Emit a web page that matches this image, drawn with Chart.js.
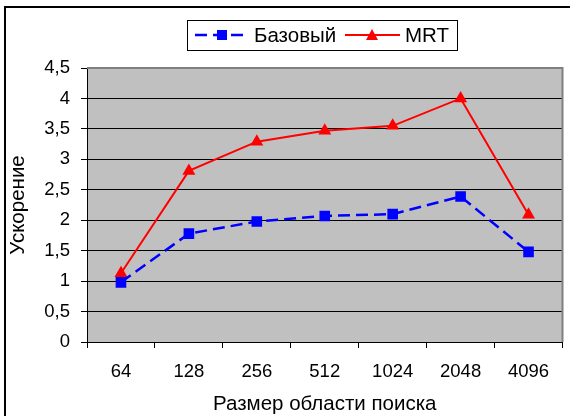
<!DOCTYPE html>
<html>
<head>
<meta charset="utf-8">
<script src="https://cdn.jsdelivr.net/npm/chart.js@4/dist/chart.umd.min.js"></script>
<style>
  html, body { margin: 0; padding: 0; background: #fff; }
  #wrap { width: 570px; height: 416px; position: relative; }
</style>
</head>
<body>
<div id="wrap"><canvas id="c" width="570" height="416"></canvas></div>
<script>
// ---- data ----
const categories = ['64', '128', '256', '512', '1024', '2048', '4096'];
const baseValues = [0.98, 1.78, 1.98, 2.07, 2.10, 2.39, 1.48];
const mrtValues  = [1.13, 2.81, 3.29, 3.47, 3.55, 4.00, 2.09];
const seriesNames = ['Базовый', 'MRT'];
const yTickLabels = ['0', '0,5', '1', '1,5', '2', '2,5', '3', '3,5', '4', '4,5'];
const xTitle = 'Размер области поиска';
const yTitle = 'Ускорение';

const FONT = '"Liberation Sans", Arial, sans-serif';
const FS = 18.5;
const FT = 20.5;

const decor = {
  id: 'decor',
  beforeDraw(chart) {
    const ctx = chart.ctx, a = chart.chartArea;
    ctx.save();
    ctx.fillStyle = '#fff';
    ctx.fillRect(0, 0, chart.width, chart.height);
    ctx.fillStyle = '#C0C0C0';
    ctx.fillRect(a.left, a.top, a.right - a.left, a.bottom - a.top);
    ctx.restore();
  },
  afterDraw(chart) {
    const ctx = chart.ctx, a = chart.chartArea;
    ctx.save();
    // plot border top/right
    ctx.strokeStyle = '#808080';
    ctx.lineWidth = 2;
    ctx.beginPath();
    ctx.moveTo(a.left, a.top);
    ctx.lineTo(a.right, a.top);
    ctx.lineTo(a.right, a.bottom);
    ctx.stroke();
    // outer frame (top + left)
    ctx.strokeStyle = '#000';
    ctx.lineWidth = 2;
    ctx.beginPath();
    ctx.moveTo(5, chart.height);
    ctx.lineTo(5, 7);
    ctx.lineTo(chart.width, 7);
    ctx.stroke();
    // legend
    const lx = 187, ly = 20, lw = 270, lh = 30, cy = ly + lh / 2;
    ctx.fillStyle = '#fff';
    ctx.fillRect(lx, ly, lw, lh);
    ctx.strokeStyle = '#000';
    ctx.lineWidth = 1;
    ctx.strokeRect(lx + 0.5, ly + 0.5, lw, lh);
    const ds = chart.data.datasets;
    // item 1
    ctx.strokeStyle = ds[0].borderColor;
    ctx.lineWidth = 2.5;
    ctx.setLineDash([12, 6]);
    ctx.beginPath(); ctx.moveTo(195, cy); ctx.lineTo(249, cy); ctx.stroke();
    ctx.setLineDash([]);
    ctx.fillStyle = ds[0].borderColor;
    ctx.fillRect(217, cy - 5, 10, 10);
    // item 2
    ctx.strokeStyle = ds[1].borderColor;
    ctx.lineWidth = 2;
    ctx.beginPath(); ctx.moveTo(345, cy); ctx.lineTo(400, cy); ctx.stroke();
    ctx.fillStyle = ds[1].borderColor;
    ctx.beginPath();
    ctx.moveTo(372, cy - 6); ctx.lineTo(378, cy + 5); ctx.lineTo(366, cy + 5); ctx.closePath(); ctx.fill();
    ctx.fillStyle = '#000';
    ctx.font = FT + 'px ' + FONT;
    ctx.textBaseline = 'middle';
    ctx.textAlign = 'left';
    ctx.fillText(ds[0].label, 254, cy + 1);
    ctx.fillText(ds[1].label, 405, cy + 1);
    ctx.restore();
  }
};

new Chart(document.getElementById('c'), {
  type: 'line',
  data: {
    labels: categories,
    datasets: [
      {
        label: seriesNames[0],
        data: baseValues,
        borderColor: '#0000FF',
        backgroundColor: '#0000FF',
        borderWidth: 2.5,
        borderDash: [12, 6],
        pointStyle: 'rect',
        pointRadius: 7.5,
        pointBorderWidth: 0,
        tension: 0
      },
      {
        label: seriesNames[1],
        data: mrtValues,
        borderColor: '#FF0000',
        backgroundColor: '#FF0000',
        borderWidth: 2,
        pointStyle: 'triangle',
        pointRadius: 7.5,
        pointBorderWidth: 0,
        tension: 0
      }
    ]
  },
  options: {
    responsive: false,
    animation: false,
    devicePixelRatio: 1,
    layout: { padding: { left: 0, right: 6, top: 68, bottom: 0 } },
    plugins: { legend: { display: false }, tooltip: { enabled: false } },
    scales: {
      x: {
        offset: true,
        afterFit(s) { s.height = 74; },
        grid: { offset: true, drawOnChartArea: false, drawTicks: true, tickLength: 6, color: '#000', lineWidth: 1 },
        border: { color: '#000', width: 1 },
        ticks: { color: '#000', font: { family: FONT, size: FS }, padding: 13, maxRotation: 0, autoSkip: false },
        title: { display: true, text: xTitle, color: '#000', font: { family: FONT, size: FT }, padding: { top: 0, bottom: -1 } }
      },
      y: {
        min: 0, max: 4.5,
        afterFit(s) { s.width = 87; },
        grid: { color: '#000', lineWidth: 1, tickLength: 6, drawTicks: true },
        border: { color: '#000', width: 1 },
        ticks: {
          stepSize: 0.5, color: '#000', font: { family: FONT, size: FS }, padding: 11,
          callback: (v, i) => yTickLabels[i]
        },
        title: { display: true, text: yTitle, color: '#000', font: { family: FONT, size: FT }, padding: { top: 6, bottom: 0 } }
      }
    }
  },
  plugins: [decor]
});
</script>
</body>
</html>
